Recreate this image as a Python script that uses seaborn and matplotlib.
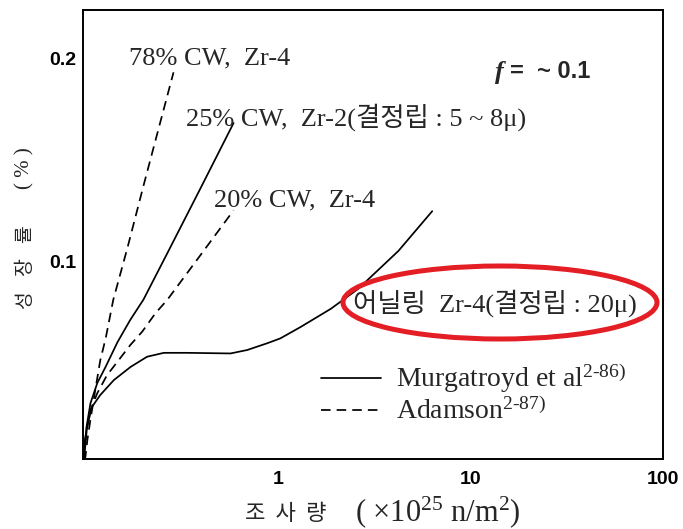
import numpy as np
import pandas as pd
import matplotlib
matplotlib.use("Agg")
import matplotlib.pyplot as plt
from matplotlib.lines import Line2D
from matplotlib.patches import Ellipse
import seaborn as sns

# ---- data (fluence x1e25 n/m^2, growth %) ----
cw78_x = [0.0965, 0.0988, 0.1012, 0.105, 0.111, 0.118, 0.126, 0.138, 0.164, 0.198, 0.234, 0.284]
cw78_y = [0.002, 0.0034, 0.012, 0.022, 0.036, 0.051, 0.062, 0.081, 0.107, 0.137, 0.163, 0.193]

cw25_x = [0.0965, 0.0976, 0.100, 0.105, 0.114, 0.126, 0.145, 0.169, 0.198, 0.264, 0.393, 0.583]
cw25_y = [0.002, 0.0069, 0.018, 0.030, 0.040, 0.048, 0.060, 0.071, 0.081, 0.104, 0.136, 0.168]

cw20_x = [0.0965, 0.0975, 0.105, 0.114, 0.128, 0.145, 0.169, 0.195, 0.229, 0.263, 0.407, 0.583]
cw20_y = [0.002, 0.0103, 0.0266, 0.035, 0.0438, 0.0504, 0.0586, 0.0652, 0.0744, 0.0808, 0.105, 0.125]

ann_x = [0.0965, 0.0975, 0.1008, 0.107, 0.118, 0.139, 0.170, 0.207, 0.253, 0.335, 0.562,
         0.687, 0.877, 1.02, 1.30, 1.87, 2.6, 4.2, 6.3]
ann_y = [0.002, 0.0036, 0.0184, 0.0282, 0.034, 0.0414, 0.0479, 0.0529, 0.0548, 0.0548, 0.0545,
         0.0562, 0.0596, 0.0619, 0.0675, 0.0765, 0.0864, 0.105, 0.1246]

x_ticks = [1, 10, 100]
x_tick_labels = ["1", "10", "100"]
y_ticks = [0.1, 0.2]
y_tick_labels = ["0.1", "0.2"]

curve_labels = ["78% CW,  Zr-4", "25% CW,  Zr-2(결정립 : 5 ~ 8μ)", "20% CW,  Zr-4",
                "어닐링  Zr-4(결정립 : 20μ)"]
legend_labels = ["Murgatroyd et al$^{2\\text{-}86)}$", "Adamson$^{2\\text{-}87)}$"]

sns.set_style("white")
plt.rcParams['font.family'] = ['Liberation Serif', 'Noto Sans CJK KR', 'DejaVu Sans']
plt.rcParams['mathtext.fontset'] = 'custom'
plt.rcParams['mathtext.rm'] = 'Liberation Serif'
plt.rcParams['mathtext.it'] = 'Liberation Serif:italic'

fig = plt.figure(figsize=(6.83, 5.29), dpi=100)
ax = fig.add_axes([83 / 683, 1 - 459 / 529, 580 / 683, 449 / 529])

DASH = (0, (5.5, 3.5))
LW = 1.25

def curve(xs, ys, ls):
    df = pd.DataFrame({"x": xs, "y": ys})
    sns.lineplot(data=df, x="x", y="y", sort=False, estimator=None, ax=ax,
                 color="black", linewidth=LW, linestyle=ls)

curve(cw78_x, cw78_y, DASH)
curve(cw25_x, cw25_y, "-")
curve(cw20_x, cw20_y, DASH)
curve(ann_x, ann_y, "-")

ax.set_xscale("log")
ax.set_xlim(0.096, 100)
ax.set_ylim(0.0025, 0.2237)
ax.set_xticks(x_ticks)
ax.set_xticklabels(x_tick_labels)
ax.set_yticks(y_ticks)
ax.set_yticklabels(y_tick_labels)
ax.minorticks_off()
ax.tick_params(axis="both", direction="in", length=11, width=1.3, colors="black")
ax.tick_params(axis="x", pad=9)
ax.tick_params(axis="y", pad=5)
for lab in ax.get_xticklabels() + ax.get_yticklabels():
    lab.set_family(['Liberation Sans'])
    lab.set_fontweight('bold')
    lab.set_fontsize(14)
for s in ax.spines.values():
    s.set_color("black")
    s.set_linewidth(1.4)

ax.set_xlabel("")
ax.set_ylabel("")
kfam = ['Noto Sans CJK KR', 'DejaVu Sans']
# y label pieces
for ch, ypx in [("성", 300), ("장", 267), ("률", 234)]:
    fig.text(25 / 683, 1 - ypx / 529, ch, rotation=90, ha="center", va="center",
             fontsize=14, family=kfam)
fig.text(25 / 683, 1 - 168 / 529, "( % )", rotation=90, ha="center", va="center",
         fontsize=15, family=['Liberation Serif'])
# x label pieces
fig.text(286 / 683, 1 - 514 / 529, "조  사  량", ha="center", va="center",
         fontsize=16, family=kfam)
fig.text(438 / 683, 1 - 512 / 529, "( ×10$^{25}$ n/m$^{2}$)", ha="center", va="center",
         fontsize=22, family=['Liberation Serif'])

tfam = ['Liberation Serif', 'Noto Sans CJK KR', 'DejaVu Sans']
FS = 19
ax.text(0.166, 0.200, curve_labels[0], fontsize=FS, family=tfam, ha="left", va="center")
ax.text(0.328, 0.171, curve_labels[1], fontsize=FS, family=tfam, ha="left", va="center")
ax.text(0.459, 0.130, curve_labels[2], fontsize=FS, family=tfam, ha="left", va="center")
ax.text(2.43, 0.0793, curve_labels[3], fontsize=FS, family=tfam, ha="left", va="center")

fig.text(495 / 683, 1 - 72 / 529, "f", fontsize=19, ha="left", va="center",
         fontweight="bold", style="italic", family=['Liberation Serif'])
fig.text(510 / 683, 1 - 72 / 529, "=  ~ 0.1", fontsize=17, ha="left", va="center",
         fontweight="bold", family=['Liberation Sans'])

# red ellipse (annotation)
ell = Ellipse((500 / 683, 1 - 302.5 / 529), 314 / 683, 73 / 529, transform=fig.transFigure,
              fill=False, edgecolor="#e31e24", linewidth=3.6)
fig.add_artist(ell)

handles = [Line2D([], [], color="black", linewidth=LW, linestyle="-"),
           Line2D([], [], color="black", linewidth=LW, linestyle=DASH)]
ax.legend(handles, legend_labels,
          loc="upper left", bbox_to_anchor=(0.391, 0.24), frameon=False,
          handlelength=2.15, handletextpad=0.55, labelspacing=0.1,
          borderaxespad=0, prop={'family': tfam, 'size': 20})

fig.savefig("out.png", dpi=100)
